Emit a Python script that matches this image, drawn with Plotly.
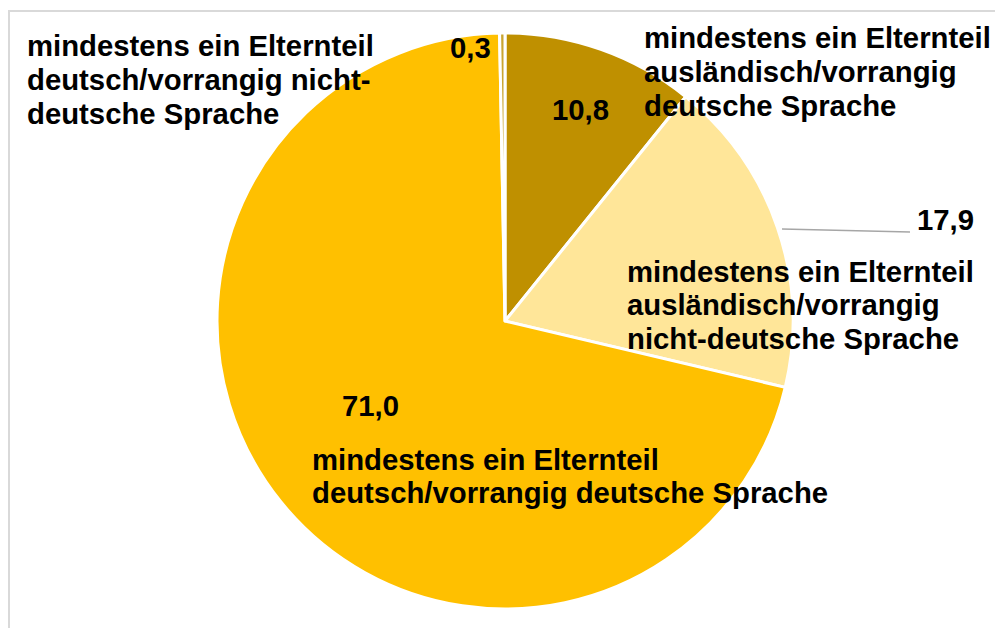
import plotly.graph_objects as go

categories = [
    "mindestens ein Elternteil ausländisch/vorrangig deutsche Sprache",
    "mindestens ein Elternteil ausländisch/vorrangig nicht-deutsche Sprache",
    "mindestens ein Elternteil deutsch/vorrangig deutsche Sprache",
    "mindestens ein Elternteil deutsch/vorrangig nicht-deutsche Sprache",
]
values = [10.8, 17.9, 71.0, 0.3]
colors = ["#BF9000", "#FFE699", "#FFC000", "#C9A531"]

label_lines = [
    ["mindestens ein Elternteil", "ausländisch/vorrangig", "deutsche Sprache"],
    ["mindestens ein Elternteil", "ausländisch/vorrangig", "nicht-deutsche Sprache"],
    ["mindestens ein Elternteil", "deutsch/vorrangig deutsche Sprache"],
    ["mindestens ein Elternteil", "deutsch/vorrangig nicht-", "deutsche Sprache"],
]

W, H = 1003, 628
OFF = 8  # page body margin
# reference-screen pixel positions: (left x, first-line center y) of labels, value label centers
label_pos = [(645, 38), (628, 271), (313, 459), (28, 46)]
value_pos = [(580, 110), (945, 220), (370, 405), (470, 48)]
LINE_GAP = 33.5

def px(x): return (x - OFF) / W
def py(y): return 1 - (y - OFF) / H

fig = go.Figure(go.Pie(
    labels=categories, values=values, sort=False, direction="clockwise",
    rotation=0, marker=dict(colors=colors, line=dict(color="white", width=3)),
    textinfo="none", hoverinfo="label+value", showlegend=False,
    domain=dict(x=[px(217), px(793)], y=[py(609), py(33)]),
))

font = dict(family="Liberation Sans, Arial, sans-serif", size=29.3, color="black")
ann = []
for lines, (x, y) in zip(label_lines, label_pos):
    for i, t in enumerate(lines):
        ann.append(dict(text="<b>" + t + "</b>", x=px(x - 3), y=py(y + i * LINE_GAP),
                        xref="paper", yref="paper", xanchor="left", yanchor="middle",
                        align="left", showarrow=False, font=font))
for v, (x, y) in zip(values, value_pos):
    ann.append(dict(text="<b>" + f"{v:.1f}".replace(".", ",") + "</b>", x=px(x), y=py(y),
                    xref="paper", yref="paper", xanchor="center", yanchor="middle",
                    showarrow=False, font=font))

shapes = [
    dict(type="line", xref="paper", yref="paper", x0=px(8), x1=1.0, y0=py(11), y1=py(11),
         line=dict(color="#D9D9D9", width=2)),
    dict(type="line", xref="paper", yref="paper", x0=px(9), x1=px(9), y0=py(11), y1=0,
         line=dict(color="#D9D9D9", width=2)),
    dict(type="line", xref="paper", yref="paper", x0=px(782), x1=px(910), y0=py(229), y1=py(232),
         line=dict(color="#A6A6A6", width=1.5)),
]

fig.update_layout(width=W, height=H, margin=dict(l=0, r=0, t=0, b=0),
                  paper_bgcolor="white", plot_bgcolor="white",
                  annotations=ann, shapes=shapes)
fig.write_html("out.html")
